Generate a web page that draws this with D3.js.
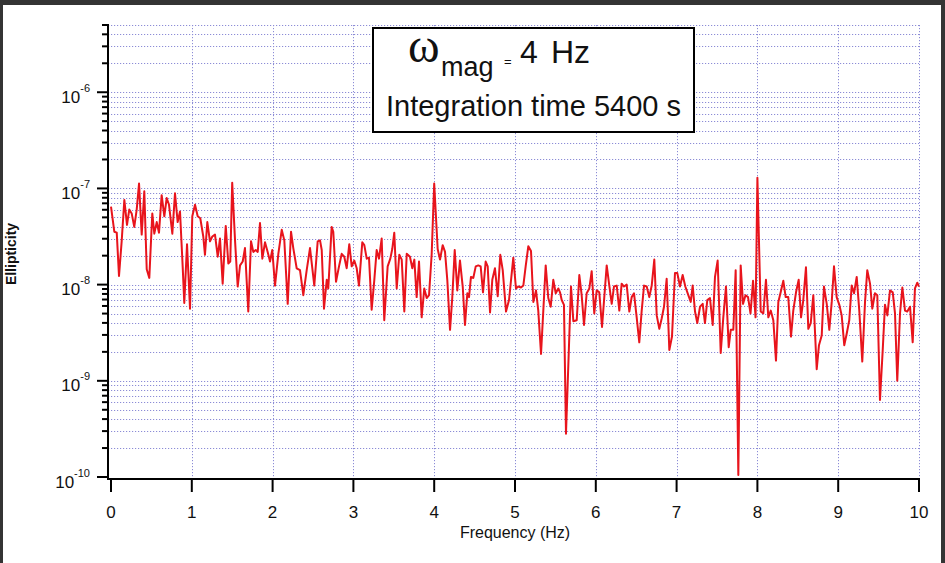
<!DOCTYPE html>
<html>
<head>
<meta charset="UTF-8">
<title>Ellipticity spectrum</title>
<style>
  html, body { margin: 0; padding: 0; background: #333; overflow: hidden; }
  svg { display: block; }
  text { font-family: "Liberation Sans", Arial, sans-serif; fill: #111; }
</style>
</head>
<body>
<svg id="chart" width="945" height="563"></svg>
<script src="https://d3js.org/d3.v7.min.js"></script>
<script>
// frequency of each point (Hz)
const freqHz = [
  0.000,0.041,0.071,0.099,0.132,0.165,0.198,0.226,0.256,0.288,
  0.318,0.347,0.380,0.412,0.442,0.474,0.511,0.536,0.566,0.594,
  0.627,0.660,0.689,0.718,0.759,0.792,0.825,0.854,0.887,0.907,
  0.941,0.978,1.006,1.040,1.073,1.105,1.142,1.163,1.192,1.225,
  1.254,1.287,1.321,1.349,1.382,1.420,1.452,1.476,1.500,1.535,
  1.568,1.597,1.630,1.658,1.699,1.733,1.761,1.791,1.816,1.844,
  1.873,1.906,1.939,1.968,1.996,2.030,2.071,2.113,2.145,2.187,
  2.228,2.256,2.298,2.339,2.380,2.422,2.463,2.516,2.558,2.587,
  2.608,2.636,2.670,2.689,2.731,2.751,2.785,2.822,2.855,2.887,
  2.917,2.949,2.979,3.011,3.041,3.069,3.110,3.135,3.165,3.193,
  3.226,3.259,3.288,3.317,3.350,3.382,3.424,3.457,3.481,3.506,
  3.536,3.568,3.598,3.630,3.660,3.700,3.729,3.754,3.783,3.812,
  3.845,3.877,3.907,3.936,3.969,4.000,4.043,4.072,4.105,4.134,
  4.162,4.196,4.224,4.254,4.286,4.319,4.353,4.381,4.410,4.431,
  4.455,4.484,4.514,4.546,4.575,4.604,4.637,4.662,4.691,4.719,
  4.752,4.786,4.818,4.848,4.889,4.926,4.979,5.012,5.041,5.074,
  5.103,5.132,5.165,5.198,5.227,5.260,5.288,5.322,5.380,5.412,
  5.442,5.474,5.504,5.536,5.557,5.578,5.606,5.631,5.693,5.722,
  5.764,5.796,5.825,5.854,5.887,5.920,5.949,5.981,6.011,6.043,
  6.077,6.135,6.167,6.197,6.225,6.259,6.291,6.320,6.349,6.382,
  6.415,6.444,6.473,6.506,6.538,6.568,6.597,6.630,6.662,6.692,
  6.724,6.754,6.786,6.816,6.844,6.877,6.910,6.943,6.980,7.009,
  7.042,7.075,7.108,7.145,7.175,7.199,7.228,7.256,7.290,7.323,
  7.351,7.380,7.413,7.447,7.475,7.508,7.546,7.578,7.611,7.645,
  7.670,7.702,7.731,7.764,7.793,7.822,7.853,7.884,7.915,7.946,
  7.977,8.000,8.041,8.073,8.106,8.135,8.165,8.197,8.230,8.259,
  8.288,8.321,8.350,8.382,8.416,8.444,8.478,8.511,8.540,8.568,
  8.601,8.630,8.660,8.692,8.734,8.762,8.796,8.824,8.858,8.890,
  8.920,8.948,8.981,9.014,9.043,9.075,9.105,9.137,9.167,9.196,
  9.229,9.261,9.298,9.332,9.360,9.394,9.422,9.455,9.484,9.517,
  9.551,9.579,9.608,9.641,9.675,9.703,9.731,9.765,9.794,9.827,
  9.855,9.889,9.922,9.950,9.979,10.000
];

// log10 of the ellipticity at each point
const log10Ellipticity = [
  -7.19,-7.45,-7.46,-7.91,-7.55,-7.12,-7.38,-7.22,-7.26,-7.40,
  -7.22,-6.95,-7.48,-7.03,-7.84,-7.93,-7.26,-7.47,-7.35,-7.46,
  -7.07,-7.29,-7.10,-7.17,-7.47,-7.05,-7.35,-7.24,-7.81,-8.19,
  -7.58,-8.25,-7.29,-7.17,-7.29,-7.31,-7.50,-7.69,-7.35,-7.55,
  -7.50,-7.48,-7.71,-7.52,-7.99,-7.39,-7.78,-7.76,-6.94,-7.54,
  -8.02,-7.80,-7.76,-7.62,-8.28,-7.55,-7.66,-7.64,-7.66,-7.36,
  -7.73,-7.56,-7.66,-7.76,-7.64,-8.01,-7.68,-7.43,-7.54,-8.20,
  -7.45,-7.62,-7.83,-7.85,-8.11,-7.85,-7.62,-8.01,-7.55,-7.54,
  -7.64,-8.25,-7.95,-8.04,-7.40,-7.45,-7.97,-7.81,-7.68,-7.71,
  -7.83,-7.58,-7.81,-7.75,-7.83,-8.01,-7.56,-7.59,-7.73,-7.72,
  -8.26,-7.95,-7.64,-7.73,-7.52,-8.37,-7.81,-7.73,-7.63,-7.46,
  -8.04,-7.69,-7.74,-8.28,-7.68,-7.71,-7.83,-7.74,-8.13,-7.76,
  -8.34,-8.04,-8.14,-8.11,-7.68,-6.95,-7.63,-7.74,-7.59,-7.66,
  -7.95,-8.47,-8.13,-7.64,-8.06,-7.75,-8.02,-8.42,-8.09,-8.13,
  -7.92,-7.93,-7.81,-7.80,-7.81,-8.08,-7.76,-7.81,-8.29,-7.95,
  -7.83,-8.12,-7.69,-7.85,-8.28,-8.16,-7.72,-8.04,-8.02,-8.03,
  -8.01,-7.81,-7.60,-7.65,-8.18,-8.06,-8.27,-8.72,-7.80,-8.14,
  -8.23,-7.95,-8.09,-8.04,-8.08,-8.16,-8.21,-9.55,-8.02,-8.38,
  -8.37,-7.90,-8.11,-8.42,-8.09,-8.04,-7.86,-8.30,-8.06,-8.08,
  -8.44,-7.80,-8.01,-8.20,-8.02,-8.01,-8.27,-7.99,-8.02,-8.00,
  -8.28,-8.13,-8.09,-8.34,-8.60,-8.27,-8.01,-8.02,-8.13,-8.01,
  -7.74,-8.32,-8.46,-8.35,-8.23,-7.94,-8.68,-8.54,-7.88,-7.88,
  -8.02,-7.90,-8.02,-8.11,-8.18,-8.01,-8.28,-8.40,-8.23,-8.20,
  -8.40,-8.16,-8.14,-8.42,-7.92,-7.75,-8.71,-8.34,-8.02,-8.65,
  -8.47,-8.47,-7.85,-9.98,-7.80,-8.20,-8.11,-8.13,-8.30,-7.96,
  -8.34,-6.89,-8.28,-8.30,-7.95,-8.34,-8.27,-8.37,-8.79,-8.18,
  -8.08,-7.96,-8.13,-8.13,-8.54,-8.27,-8.08,-7.95,-8.34,-8.16,
  -7.82,-8.46,-8.40,-8.11,-8.88,-8.63,-8.53,-8.02,-8.20,-8.47,
  -8.18,-7.81,-8.13,-8.21,-8.32,-8.63,-8.51,-8.37,-8.01,-8.09,
  -7.92,-8.27,-8.80,-8.18,-7.85,-7.99,-8.25,-8.09,-8.11,-9.20,
  -8.68,-8.21,-8.32,-8.06,-8.08,-8.30,-9.00,-8.30,-8.03,-8.27,
  -8.28,-8.23,-8.60,-8.04,-7.98,-8.02
];

const xTicks = [0, 1, 2, 3, 4, 5, 6, 7, 8, 9, 10];
const yDecades = [-10, -9, -8, -7, -6];
const Y_MIN = 1e-10, Y_MAX = 5e-6;

const svg = d3.select("#chart");

// page frame: dark surround, white slide
svg.append("rect").attr("width", 945).attr("height", 563).attr("fill", "#343434");
svg.append("rect").attr("x", 3).attr("y", 5).attr("width", 938).attr("height", 558).attr("fill", "#fff");

const x = d3.scaleLinear().domain([0, 10]).range([111, 919]);
const y = d3.scaleLog().domain([Y_MIN, Y_MAX]).range([477, 25]);
const AXIS_Y = 479, AXIS_X = 108;

// minor positions 1..9 x 10^n inside the domain
const minorVals = [];
yDecades.forEach(p => {
  for (let m = 1; m <= 9; m++) {
    const v = m * Math.pow(10, p);
    if (v >= Y_MIN * 0.999 && v <= Y_MAX * 1.001) minorVals.push(v);
  }
});

// dotted grid
const grid = svg.append("g").attr("stroke", "#8c8cd6").attr("stroke-width", 1)
  .attr("stroke-dasharray", "1.2,1.8").attr("fill", "none");
grid.selectAll("line.h").data(minorVals.filter(v => v > Y_MIN)).join("line")
  .attr("x1", AXIS_X).attr("x2", x(10))
  .attr("y1", d => Math.round(y(d)) + 0.5).attr("y2", d => Math.round(y(d)) + 0.5);
grid.selectAll("line.v").data(xTicks.filter(t => t > 0)).join("line")
  .attr("x1", d => Math.round(x(d)) + 0.5).attr("x2", d => Math.round(x(d)) + 0.5)
  .attr("y1", y(Y_MAX)).attr("y2", AXIS_Y);

// data line
const points = freqHz.map((f, i) => [f, Math.pow(10, log10Ellipticity[i])]);
svg.append("path")
  .datum(points)
  .attr("fill", "none")
  .attr("stroke", "#e8141c")
  .attr("stroke-width", 2)
  .attr("stroke-linejoin", "round")
  .attr("d", d3.line().x(d => x(d[0])).y(d => y(d[1])));

// axes
const axes = svg.append("g").attr("stroke", "#000").attr("stroke-width", 2).attr("fill", "none");
axes.append("line").attr("x1", AXIS_X).attr("x2", AXIS_X).attr("y1", y(Y_MAX) - 1).attr("y2", AXIS_Y + 1);
axes.append("line").attr("x1", AXIS_X - 1).attr("x2", x(10) + 1).attr("y1", AXIS_Y).attr("y2", AXIS_Y);

axes.selectAll("line.yt").data(minorVals).join("line")
  .attr("x1", d => yDecades.some(p => Math.abs(d - Math.pow(10, p)) < d * 1e-6) ? AXIS_X - 11 : AXIS_X - 6)
  .attr("x2", AXIS_X)
  .attr("y1", d => y(d)).attr("y2", d => y(d));

axes.selectAll("line.xt").data(xTicks).join("line")
  .attr("x1", d => x(d)).attr("x2", d => x(d))
  .attr("y1", AXIS_Y).attr("y2", AXIS_Y + 13);

// tick labels
svg.selectAll("text.xl").data(xTicks).join("text")
  .attr("x", d => x(d)).attr("y", 518)
  .attr("text-anchor", "middle").attr("font-size", 17)
  .text(d => d);

const yl = svg.selectAll("text.yl").data(yDecades).join("text")
  .attr("x", 90).attr("y", d => y(Math.pow(10, d)) + 10.5)
  .attr("text-anchor", "end").attr("font-size", 17);
yl.append("tspan").text("10");
yl.append("tspan").attr("font-size", 11).attr("dy", -11).text(d => d);

// axis titles
svg.append("text").attr("x", 515).attr("y", 538).attr("text-anchor", "middle")
  .attr("font-size", 16).text("Frequency (Hz)");
svg.append("text").attr("transform", "translate(16,254) rotate(-90)")
  .attr("text-anchor", "middle").attr("font-size", 14).attr("font-weight", "bold")
  .text("Ellipticity");

// annotation box
const note = svg.append("g");
note.append("rect").attr("x", 373).attr("y", 28).attr("width", 321).attr("height", 104)
  .attr("fill", "#fff").attr("stroke", "#000").attr("stroke-width", 2);
note.append("text").attr("x", 408).attr("y", 62)
  .style("font-family", '"Liberation Serif", "Times New Roman", serif')
  .attr("font-size", 48).text("ω");
note.append("text").attr("x", 441).attr("y", 76).attr("font-size", 27).text("mag");
note.append("text").attr("x", 504).attr("y", 66).attr("font-size", 13).text("=");
note.append("text").attr("x", 520).attr("y", 63).attr("font-size", 32).text("4");
note.append("text").attr("x", 551).attr("y", 63).attr("font-size", 32).text("Hz");
note.append("text").attr("x", 386).attr("y", 116).attr("font-size", 29)
  .text("Integration time 5400 s");
</script>
</body>
</html>
